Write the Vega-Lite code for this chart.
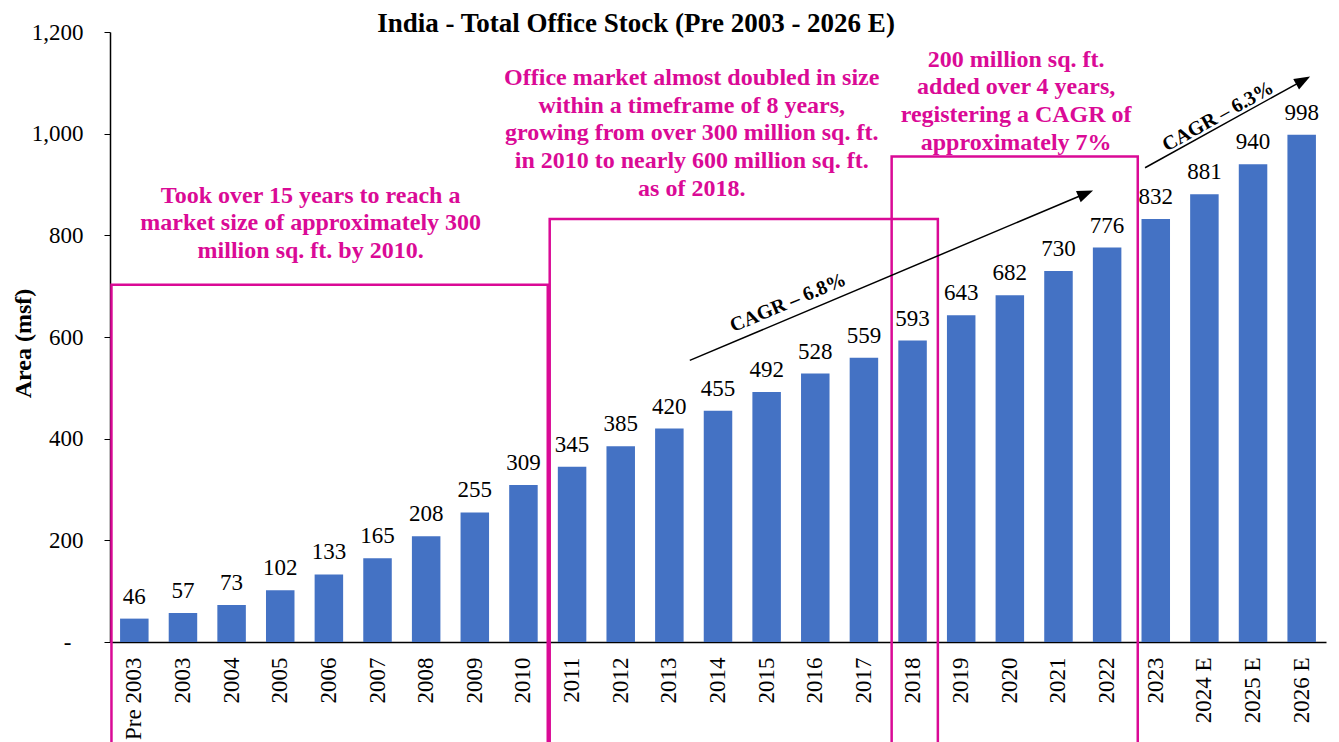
{
  "$schema": "https://vega.github.io/schema/vega-lite/v6.json",
  "width": 1216,
  "height": 610,
  "autosize": {"type": "none"},
  "padding": {"left": 110, "top": 32, "right": 13, "bottom": 100},
  "background": "white",
  "config": {"view": {"stroke": null}, "font": "Liberation Serif", "mark": {"font": "Liberation Serif"}, "text": {"font": "Liberation Serif"}},
  "title": {
    "text": "India - Total Office Stock (Pre 2003 - 2026 E)",
    "font": "Liberation Serif",
    "fontSize": 27,
    "fontWeight": "bold",
    "color": "black",
    "anchor": "middle",
    "frame": "group",
    "dx": -82,
    "dy": 38,
    "baseline": "alphabetic",
    "offset": 0
  },
  "datasets": {
    "stock": [
      {"year": "Pre 2003", "value": 46},
      {"year": "2003", "value": 57},
      {"year": "2004", "value": 73},
      {"year": "2005", "value": 102},
      {"year": "2006", "value": 133},
      {"year": "2007", "value": 165},
      {"year": "2008", "value": 208},
      {"year": "2009", "value": 255},
      {"year": "2010", "value": 309},
      {"year": "2011", "value": 345},
      {"year": "2012", "value": 385},
      {"year": "2013", "value": 420},
      {"year": "2014", "value": 455},
      {"year": "2015", "value": 492},
      {"year": "2016", "value": 528},
      {"year": "2017", "value": 559},
      {"year": "2018", "value": 593},
      {"year": "2019", "value": 643},
      {"year": "2020", "value": 682},
      {"year": "2021", "value": 730},
      {"year": "2022", "value": 776},
      {"year": "2023", "value": 832},
      {"year": "2024 E", "value": 881},
      {"year": "2025 E", "value": 940},
      {"year": "2026 E", "value": 998}
    ],
    "boxes": [
      {"u1": 0.03, "u2": 9.0, "top": 703, "bottom": -250},
      {"u1": 9.04, "u2": 17.02, "top": 832, "bottom": -250},
      {"u1": 16.07, "u2": 21.13, "top": 955, "bottom": -250}
    ],
    "notes": [
      {"u": 4.125, "v": 864, "text": "Took over 15 years to reach a\nmarket size of approximately 300\nmillion sq. ft. by 2010."},
      {"u": 11.96, "v": 1096, "text": "Office market almost doubled in size\nwithin a timeframe of 8 years,\ngrowing from over 300 million sq. ft.\nin 2010 to nearly 600 million sq. ft.\nas of 2018."},
      {"u": 18.63, "v": 1132, "text": "200 million sq. ft.\nadded over 4 years,\nregistering a CAGR of\napproximately 7%"}
    ],
    "arrows": [
      {"id": 1, "u": 11.92, "v": 554, "hu": 20.06, "hv": 882.3},
      {"id": 2, "u": 21.28, "v": 933, "hu": 24.53, "hv": 1105}
    ],
    "cagr": [
      {"id": 1, "u": 13.94, "v": 667.5, "text": "CAGR – 6.8%"},
      {"id": 2, "u": 22.78, "v": 1034, "text": "CAGR – 6.3%"}
    ]
  },
  "resolve": {"scale": {"x": "independent"}},
  "layer": [
    {
      "data": {"name": "stock"},
      "layer": [
        {
          "mark": {"type": "bar", "color": "#4472C4"},
          "encoding": {
            "x": {
              "field": "year", "type": "nominal", "sort": null,
              "scale": {"paddingInner": 0.414, "paddingOuter": 0.207},
              "axis": {
                "title": null, "labelAngle": 270, "labelFontSize": 23, "labelFont": "Liberation Serif",
                "labelColor": "black", "labelPadding": 15, "ticks": false, "domainColor": "black",
                "domainWidth": 1.5, "labelOverlap": false, "labelBound": false
              }
            },
            "y": {
              "field": "value", "type": "quantitative",
              "scale": {"domain": [0, 1200], "nice": false},
              "axis": {
                "title": "Area (msf)", "titleFont": "Liberation Serif", "titleFontSize": 24, "titleFontWeight": "bold",
                "titleColor": "black", "titleAngle": 270, "titleBaseline": "alphabetic", "titleAlign": "center",
                "titleX": -80, "titleY": 311,
                "values": [0, 200, 400, 600, 800, 1000, 1200],
                "labelExpr": "datum.value == 0 ? '-' : format(datum.value, ',')",
                "labelFontSize": 23, "labelFont": "Liberation Serif", "labelColor": "black",
                "labelPadding": {"condition": {"test": "datum.value == 0", "value": 33}, "value": 21},
                "tickSize": 6, "tickColor": "black", "domainColor": "black", "domainWidth": 1.5, "grid": false
              }
            }
          }
        },
        {
          "mark": {"type": "text", "fontSize": 23, "font": "Liberation Serif", "color": "black", "baseline": "alphabetic", "dy": -15},
          "encoding": {
            "x": {"field": "year", "type": "nominal", "sort": null},
            "y": {"field": "value", "type": "quantitative", "scale": {"domain": [0, 1200], "nice": false}},
            "text": {"field": "value", "type": "quantitative"}
          }
        }
      ]
    },
    {
      "data": {"name": "boxes"},
      "mark": {"type": "rect", "fillOpacity": 0, "stroke": "#DA0A96", "strokeWidth": 2.5},
      "encoding": {
        "x": {"field": "u1", "type": "quantitative", "scale": {"domain": [0, 25], "nice": false, "zero": false}, "axis": null},
        "x2": {"field": "u2"},
        "y": {"field": "top", "type": "quantitative", "scale": {"domain": [0, 1200], "nice": false}},
        "y2": {"field": "bottom"}
      }
    },
    {
      "data": {"name": "notes"},
      "mark": {"type": "text", "fontSize": 24, "fontWeight": "bold", "font": "Liberation Serif", "color": "#DA0A96",
               "align": "center", "baseline": "alphabetic", "lineBreak": "\n", "lineHeight": 27.7},
      "encoding": {
        "x": {"field": "u", "type": "quantitative", "scale": {"domain": [0, 25], "nice": false, "zero": false}, "axis": null},
        "y": {"field": "v", "type": "quantitative", "scale": {"domain": [0, 1200], "nice": false}},
        "text": {"field": "text"}
      }
    },
    {
      "data": {"name": "arrows"},
      "mark": {"type": "rule", "color": "black", "strokeWidth": 1.5},
      "encoding": {
        "x": {"field": "u", "type": "quantitative", "scale": {"domain": [0, 25], "nice": false, "zero": false}, "axis": null},
        "y": {"field": "v", "type": "quantitative", "scale": {"domain": [0, 1200], "nice": false}},
        "x2": {"field": "hu"},
        "y2": {"field": "hv"}
      }
    },
    {
      "data": {"name": "arrows"},
      "transform": [{"filter": "datum.id == 1"}],
      "mark": {"type": "point", "shape": "M1,0L-1,-0.75L-1,0.75Z", "filled": true, "color": "black", "opacity": 1, "size": 256, "angle": 337.1},
      "encoding": {
        "x": {"field": "hu", "type": "quantitative", "scale": {"domain": [0, 25], "nice": false, "zero": false}, "axis": null},
        "y": {"field": "hv", "type": "quantitative", "scale": {"domain": [0, 1200], "nice": false}}
      }
    },
    {
      "data": {"name": "arrows"},
      "transform": [{"filter": "datum.id == 2"}],
      "mark": {"type": "point", "shape": "M1,0L-1,-0.75L-1,0.75Z", "filled": true, "color": "black", "opacity": 1, "size": 256, "angle": 331},
      "encoding": {
        "x": {"field": "hu", "type": "quantitative", "scale": {"domain": [0, 25], "nice": false, "zero": false}, "axis": null},
        "y": {"field": "hv", "type": "quantitative", "scale": {"domain": [0, 1200], "nice": false}}
      }
    },
    {
      "data": {"name": "cagr"},
      "transform": [{"filter": "datum.id == 1"}],
      "mark": {"type": "text", "fontSize": 20, "fontWeight": "bold", "font": "Liberation Serif", "color": "black",
               "align": "center", "baseline": "middle", "angle": -22.9},
      "encoding": {
        "x": {"field": "u", "type": "quantitative", "scale": {"domain": [0, 25], "nice": false, "zero": false}, "axis": null},
        "y": {"field": "v", "type": "quantitative", "scale": {"domain": [0, 1200], "nice": false}},
        "text": {"field": "text"}
      }
    },
    {
      "data": {"name": "cagr"},
      "transform": [{"filter": "datum.id == 2"}],
      "mark": {"type": "text", "fontSize": 20, "fontWeight": "bold", "font": "Liberation Serif", "color": "black",
               "align": "center", "baseline": "middle", "angle": -29},
      "encoding": {
        "x": {"field": "u", "type": "quantitative", "scale": {"domain": [0, 25], "nice": false, "zero": false}, "axis": null},
        "y": {"field": "v", "type": "quantitative", "scale": {"domain": [0, 1200], "nice": false}},
        "text": {"field": "text"}
      }
    }
  ]
}
